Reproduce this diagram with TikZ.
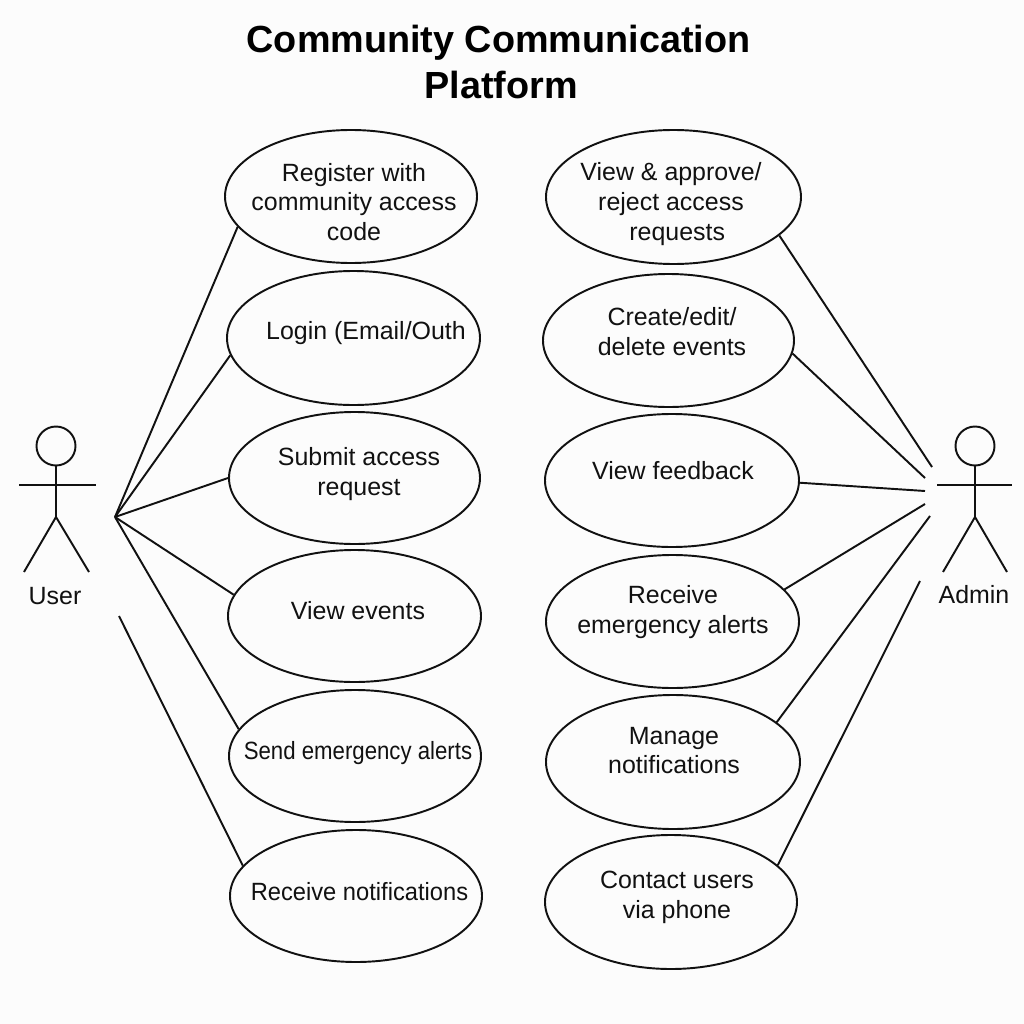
\documentclass[tikz,border=0pt]{standalone}
\usepackage{fontspec}
\setmainfont{Liberation Sans}
\usetikzlibrary{shapes.geometric}
\definecolor{inkline}{HTML}{111111}
\definecolor{paperbg}{HTML}{FCFCFC}
\begin{document}
\begin{tikzpicture}[
      x=0.02cm, y=-0.02cm,
      font=\fontsize{14.2pt}{17pt}\selectfont,
      line width=1.1pt,
      usecase/.style={draw=inkline, ellipse, inner sep=0pt},
      case text/.style={align=center, text=inkline, inner sep=0pt},
      actor label/.style={text=inkline},
      assoc/.style={draw=inkline},
      limb/.style={draw=inkline},
  ]
  \useasboundingbox[fill=paperbg] (0,0) rectangle (1024,1024);

  % Title
  \node[font=\fontsize{21.5pt}{26pt}\selectfont\bfseries, align=center, text=black] (title) at (498.5,62) {Community Communication\\\hspace*{0.1cm}Platform};

  % Use cases for the user
  \foreach \name/\cx/\cy/\w/\h/\tx/\ty/\txt in {
      register/351/196.5/252/133/354/202/{Register with\\community access\\code},
      login/353.5/338/253/134/366/333/{Login (Email/Outh},
      submit/354.5/478/251/132/359/474/{Submit access\\request},
      viewev/354.5/616/253/132/358/611/{View events},
      sendal/355/756/252/132/358/753/{\scalebox{0.89}[1]{Send emergency alerts}},
      receiven/356/896/252/132/359.5/892/{\scalebox{0.95}[1]{Receive notifications}}} {
    \node[usecase, minimum width=\w*0.02cm, minimum height=\h*0.02cm] (\name) at (\cx,\cy) {};
    \node[case text] (\name text) at (\tx,\ty) {\txt};
  }

  % Use cases for the admin
  \foreach \name/\cx/\cy/\w/\h/\tx/\ty/\txt in {
      approve/673.5/197/255/134/671/204/{View \& approve/\\reject access\\\hspace*{0.25cm}requests},
      events/668.5/340.5/251/133/672/332/{Create/edit/\\delete events},
      feedback/672/480.5/254/133/673/471/{View feedback},
      alerts/672.5/621.5/253/133/673/612/{Receive\\emergency alerts},
      manage/673/762/254/134/674/750.5/{Manage\\notifications},
      contact/671/902/252/134/677/897/{Contact users\\via phone}} {
    \node[usecase, minimum width=\w*0.02cm, minimum height=\h*0.02cm] (\name) at (\cx,\cy) {};
    \node[case text] (\name text) at (\tx,\ty) {\txt};
  }

  % User figure
  \node[draw=inkline, circle, minimum size=39*0.02cm, inner sep=0pt] (userhead) at (56,446) {};
  \coordinate (userneck) at (56,517);
  \draw[limb] (userhead.south) -- (userneck);
  \draw[limb] (19,485) -- (96,485);
  \draw[limb] (24,572) -- (userneck) -- (89,572);
  \node[actor label] (userlabel) at (55,596) {User};

  % Admin figure
  \node[draw=inkline, circle, minimum size=39*0.02cm, inner sep=0pt] (adminhead) at (975,446) {};
  \coordinate (adminneck) at (975,517);
  \draw[limb] (adminhead.south) -- (adminneck);
  \draw[limb] (937,485) -- (1012,485);
  \draw[limb] (943,572) -- (adminneck) -- (1007,572);
  \node[actor label] (adminlabel) at (974,595) {Admin};

  % Connectors on the left
  \coordinate (userhand) at (115,517);
  \coordinate (userlow) at (119,616);
  \foreach \target/\ang in {register/195.8, login/188.9, submit/180, viewev/170.7, sendal/167.8} {
    \draw[assoc] (userhand) -- (\target.\ang);
  }
  \draw[assoc] (userlow) -- (receiven.165.7);

  % Connectors on the right
  \coordinate (admina) at (932,467);
  \coordinate (adminb) at (925,478);
  \coordinate (adminc) at (925,491);
  \coordinate (admind) at (925,504);
  \coordinate (admine) at (930,516);
  \coordinate (adminf) at (920,581);
  \draw[assoc] (admina) -- (approve.-20.8);
  \draw[assoc] (adminb) -- (events.-6.75);
  \draw[assoc] (adminc) -- (feedback.-1.1);
  \draw[assoc] (admind) -- (alerts.16.7);
  \draw[assoc] (admine) -- (manage.21.2);
  \draw[assoc] (adminf) -- (contact.19.7);
\end{tikzpicture}
\end{document}
